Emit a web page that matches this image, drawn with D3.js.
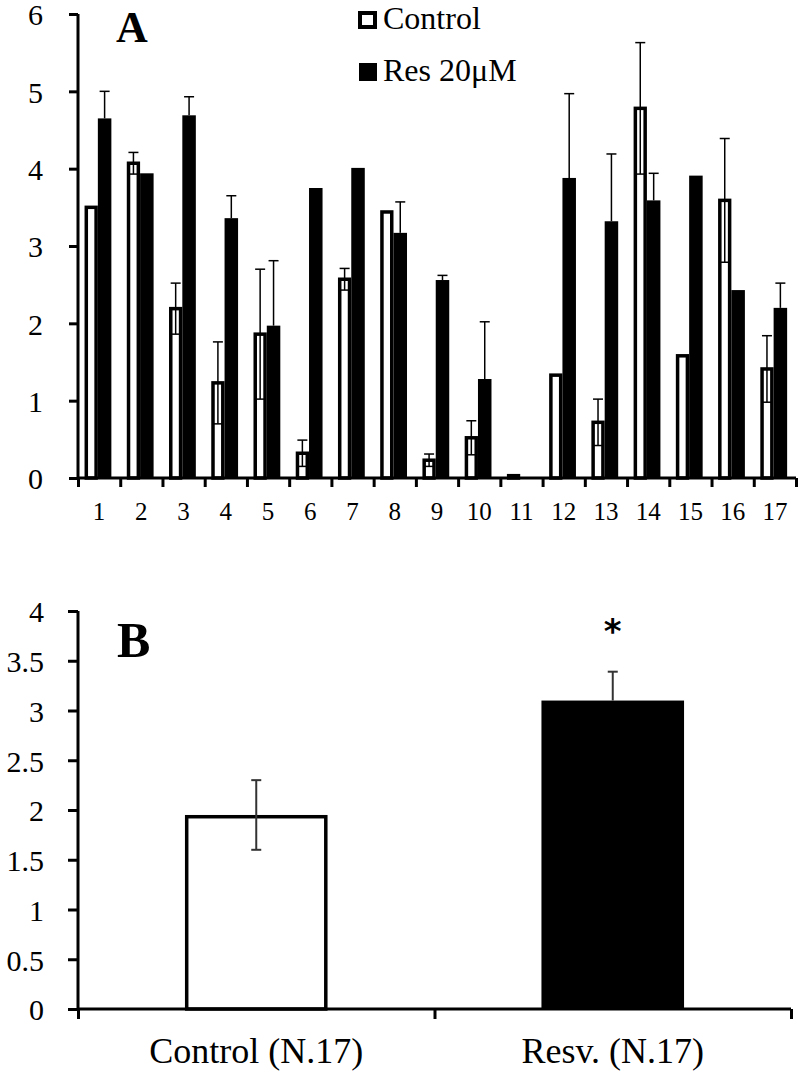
<!DOCTYPE html>
<html>
<head>
<meta charset="utf-8">
<script src="https://cdnjs.cloudflare.com/ajax/libs/d3/7.8.5/d3.min.js"></script>
<style>
  body { margin: 0; background: #fff; }
</style>
</head>
<body>
<div id="chart"></div>
<script>
//////////////// data ////////////////////////////////////
// panel A: 17 samples, control vs resveratrol 20uM
let categoriesA = ["1","2","3","4","5","6","7","8","9","10","11","12","13","14","15","16","17"];
let controlMeans = [3.50, 4.07, 2.19, 1.23, 1.86, 0.32, 2.57, 3.44, 0.23, 0.52, 0.03, 1.33, 0.72, 4.78, 1.58, 3.59, 1.41];
let controlErr   = [0.00, 0.14, 0.33, 0.53, 0.84, 0.17, 0.14, 0.00, 0.08, 0.22, 0.00, 0.00, 0.30, 0.85, 0.00, 0.80, 0.43];
let resMeans     = [4.65, 3.94, 4.69, 3.36, 1.97, 3.75, 4.01, 3.17, 2.56, 1.28, 0.01, 3.88, 3.32, 3.59, 3.91, 2.43, 2.20];
let resErr       = [0.35, 0.00, 0.24, 0.29, 0.84, 0.00, 0.00, 0.40, 0.06, 0.74, 0.00, 1.09, 0.87, 0.35, 0.00, 0.00, 0.32];
let ticksA = [0, 1, 2, 3, 4, 5, 6];
let legendLabels = ["Control", "Res 20\u03BCM"];

// panel B: averages
let categoriesB = ["Control (N.17)", "Resv. (N.17)"];
let meansB = [1.95, 3.10];
let errB   = [0.35, 0.29];
let ticksB = [0, 0.5, 1, 1.5, 2, 2.5, 3, 3.5, 4];

let serif = "'Liberation Serif', 'Times New Roman', 'DejaVu Serif', serif";

//////////////// svg ////////////////////////////////////
let width = 800, height = 1074;
let svg = d3.select("#chart")
            .append("svg")
            .attr("width", width)
            .attr("height", height)
            .style("font-family", serif);

//////////////// panel A ////////////////////////////////////
let xA = d3.scaleBand()
           .domain(categoriesA)
           .range([78, 796]);
let xA_ticks = d3.scaleLinear()
                 .domain([0, categoriesA.length])
                 .range([78, 796]);
let yA = d3.scaleLinear()
           .domain([0, 6])
           .range([478, 14]);

let bw = xA.bandwidth();
// control bar (outlined) and res bar (filled) inside each band
let ctrlX = function(i) { return xA(categoriesA[i]) + bw*0.155 + 1.75 },
    ctrlW = bw*0.315 - 3.5,
    resX  = function(i) { return xA(categoriesA[i]) + bw*0.47 },
    resW  = bw*0.32;

let gA = svg.append("g");

// control bars
gA.selectAll("rect.ctrl")
  .data(controlMeans)
  .enter()
  .append("rect")
  .attr("class", "ctrl")
  .attr("x", function(d, i) { return ctrlX(i) })
  .attr("y", function(d) { return yA(d) })
  .attr("width", ctrlW)
  .attr("height", function(d) { return yA(0) - yA(d) })
  .attr("fill", "#fff")
  .attr("stroke", "#000")
  .attr("stroke-width", 3.5);

// res bars
gA.selectAll("rect.res")
  .data(resMeans)
  .enter()
  .append("rect")
  .attr("class", "res")
  .attr("x", function(d, i) { return resX(i) })
  .attr("y", function(d) { return yA(d) })
  .attr("width", resW)
  .attr("height", function(d) { return yA(0) - yA(d) })
  .attr("fill", "#000");

// error bars (control: both ways, res: upper only)
function errBar(g, cx, yTop, yBot, capW, sw, color, lowerCap) {
  g.append("line")
   .attr("x1", cx).attr("x2", cx)
   .attr("y1", yTop).attr("y2", yBot)
   .attr("stroke", color).attr("stroke-width", sw);
  g.append("line")
   .attr("x1", cx - capW/2).attr("x2", cx + capW/2)
   .attr("y1", yTop).attr("y2", yTop)
   .attr("stroke", color).attr("stroke-width", sw);
  if (lowerCap) {
    g.append("line")
     .attr("x1", cx - capW/2).attr("x2", cx + capW/2)
     .attr("y1", yBot).attr("y2", yBot)
     .attr("stroke", color).attr("stroke-width", sw);
  }
}
controlMeans.forEach(function(m, i) {
  if (controlErr[i] <= 0) return;
  errBar(gA, ctrlX(i) + ctrlW/2, yA(m + controlErr[i]), yA(m - controlErr[i]), 10, 1.5, "#000", true);
});
resMeans.forEach(function(m, i) {
  if (resErr[i] <= 0) return;
  errBar(gA, resX(i) + resW/2, yA(m + resErr[i]), yA(m), 10, 1.5, "#000", false);
});

// y axis
gA.append("g")
  .attr("transform", "translate(78,0)")
  .call(d3.axisLeft(yA)
          .tickValues(ticksA)
          .tickSize(9)
          .tickPadding(26)
          .tickFormat(d3.format("d")))
  .call(function(g) {
    g.attr("font-family", serif);
    g.select(".domain").attr("stroke-width", 3).attr("d", "M0,14V478");
    g.selectAll(".tick line").attr("stroke-width", 3);
    g.selectAll(".tick text").style("font-size", "30px").attr("dy", "0.36em");
  });

// x axis: ticks at band edges
gA.append("g")
  .attr("transform", "translate(0,478)")
  .call(d3.axisBottom(xA_ticks)
          .ticks(categoriesA.length)
          .tickSize(9)
          .tickFormat(""))
  .call(function(g) {
    g.select(".domain").attr("stroke-width", 3).attr("d", "M78,0H796");
    g.selectAll(".tick line").attr("stroke-width", 3);
  });
// x labels at band centres
gA.append("g")
  .attr("transform", "translate(0,478)")
  .call(d3.axisBottom(xA).tickSize(0).tickPadding(24))
  .call(function(g) {
    g.attr("font-family", serif);
    g.select(".domain").remove();
    g.selectAll(".tick text").style("font-size", "25px");
  });

// legend
gA.append("rect")
  .attr("x", 360).attr("y", 13).attr("width", 15).attr("height", 14)
  .attr("fill", "#fff").attr("stroke", "#000").attr("stroke-width", 4);
gA.append("rect")
  .attr("x", 359).attr("y", 63).attr("width", 18).attr("height", 18)
  .attr("fill", "#000");
gA.selectAll("text.legend")
  .data(legendLabels)
  .enter()
  .append("text")
  .attr("class", "legend")
  .attr("x", 383)
  .attr("y", function(d, i) { return 29 + i*52 })
  .style("font-family", serif)
  .style("font-size", "32px")
  .text(function(d) { return d });

// panel letter
gA.append("text")
  .attr("x", 116).attr("y", 42)
  .style("font-family", serif)
  .style("font-size", "44px")
  .style("font-weight", "bold")
  .text("A");

//////////////// panel B ////////////////////////////////////
let xB = d3.scaleBand()
           .domain(categoriesB)
           .range([78, 791]);
let xB_ticks = d3.scaleLinear()
                 .domain([0, categoriesB.length])
                 .range([78, 791]);
let yB = d3.scaleLinear()
           .domain([0, 4])
           .range([1009, 611]);
let bwB = xB.bandwidth(),
    barB = bwB*0.4;

let gB = svg.append("g");

gB.selectAll("rect.barB")
  .data(meansB)
  .enter()
  .append("rect")
  .attr("class", "barB")
  .attr("x", function(d, i) { return xB(categoriesB[i]) + (bwB - barB)/2 + (i == 0 ? 1.75 : 0) })
  .attr("y", function(d, i) { return yB(d) + (i == 0 ? 1.75 : 0) })
  .attr("width", function(d, i) { return i == 0 ? barB - 3.5 : barB })
  .attr("height", function(d, i) { return yB(0) - yB(d) - (i == 0 ? 1.75 : 0) })
  .attr("fill", function(d, i) { return i == 0 ? "#fff" : "#000" })
  .attr("stroke", function(d, i) { return i == 0 ? "#000" : "none" })
  .attr("stroke-width", 3.5);

meansB.forEach(function(m, i) {
  let cx = xB(categoriesB[i]) + bwB/2;
  if (i == 0) errBar(gB, cx, yB(m + errB[i]), yB(m - errB[i]), 10, 2, "#333", true);
  else errBar(gB, cx, yB(m + errB[i]), yB(m), 10, 2, "#333", false);
});

// significance star
gB.append("text")
  .attr("x", xB(categoriesB[1]) + bwB/2)
  .attr("y", 643)
  .attr("text-anchor", "middle")
  .style("font-family", "'DejaVu Sans', sans-serif")
  .style("font-size", "34px")
  .style("font-weight", "bold")
  .text("*");

// y axis
gB.append("g")
  .attr("transform", "translate(78,0)")
  .call(d3.axisLeft(yB)
          .tickValues(ticksB)
          .tickSize(10)
          .tickPadding(24)
          .tickFormat(d3.format("")))
  .call(function(g) {
    g.attr("font-family", serif);
    g.select(".domain").attr("stroke-width", 3).attr("d", "M0,611V1009");
    g.selectAll(".tick line").attr("stroke-width", 3);
    g.selectAll(".tick text").style("font-size", "30px").attr("dy", "0.36em");
  });

// x axis ticks at band edges
gB.append("g")
  .attr("transform", "translate(0,1009)")
  .call(d3.axisBottom(xB_ticks)
          .ticks(categoriesB.length)
          .tickSize(10)
          .tickFormat(""))
  .call(function(g) {
    g.select(".domain").attr("stroke-width", 3).attr("d", "M78,0H791");
    g.selectAll(".tick line").attr("stroke-width", 3);
  });
gB.append("g")
  .attr("transform", "translate(0,1009)")
  .call(d3.axisBottom(xB).tickSize(0).tickPadding(28))
  .call(function(g) {
    g.attr("font-family", serif);
    g.select(".domain").remove();
    g.selectAll(".tick text").style("font-size", "36px");
  });

// panel letter
gB.append("text")
  .attr("x", 117).attr("y", 657)
  .style("font-family", serif)
  .style("font-size", "50px")
  .style("font-weight", "bold")
  .text("B");
</script>
</body>
</html>
